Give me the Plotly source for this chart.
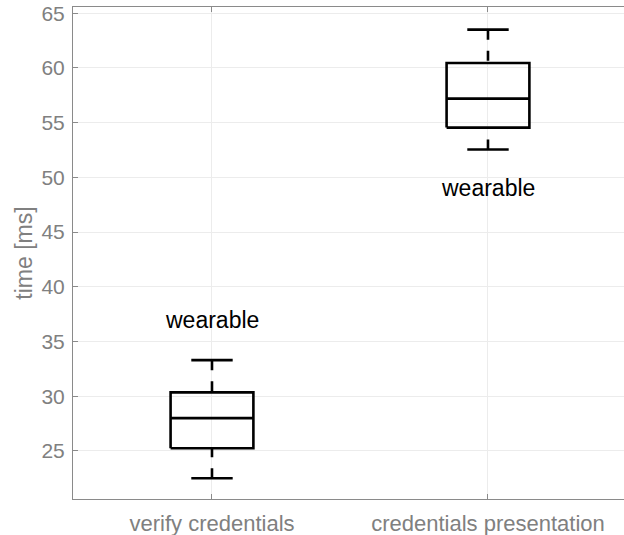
import plotly.graph_objects as go

# Timing summary per operation (ms)
categories = ["verify credentials", "credentials presentation"]
lower_whisker = [22.5, 52.55]
q1 = [25.25, 54.55]
median = [28.0, 57.2]
q3 = [30.35, 60.45]
upper_whisker = [33.3, 63.5]
label_text = ["wearable", "wearable"]
label_y = [37.0, 49.0]

y_ticks = [25, 30, 35, 40, 45, 50, 55, 60, 65]

positions = [1, 2]
box_half = 0.15
cap_half = 0.075
line_col = "black"
lw = 2.6

fig = go.Figure()

for i, c in enumerate(positions):
    # box outline
    fig.add_trace(go.Scatter(
        x=[c - box_half, c + box_half, c + box_half, c - box_half, c - box_half],
        y=[q1[i], q1[i], q3[i], q3[i], q1[i]],
        mode="lines", line=dict(color=line_col, width=lw), hoverinfo="skip"))
    # median
    fig.add_trace(go.Scatter(
        x=[c - box_half, c + box_half], y=[median[i], median[i]],
        mode="lines", line=dict(color=line_col, width=lw), hoverinfo="skip"))
    # whisker caps
    for v in (lower_whisker[i], upper_whisker[i]):
        fig.add_trace(go.Scatter(
            x=[c - cap_half, c + cap_half], y=[v, v],
            mode="lines", line=dict(color=line_col, width=lw), hoverinfo="skip"))
    # dashed whiskers, drawn from the caps toward the box
    fig.add_trace(go.Scatter(
        x=[c, c], y=[upper_whisker[i], q3[i]],
        mode="lines", line=dict(color=line_col, width=lw, dash="10px,11px"),
        hoverinfo="skip"))
    fig.add_trace(go.Scatter(
        x=[c, c], y=[lower_whisker[i], q1[i]],
        mode="lines", line=dict(color=line_col, width=lw, dash="10px,11px"),
        hoverinfo="skip"))
    fig.add_annotation(x=c, y=label_y[i], text=label_text[i], showarrow=False,
                       font=dict(family="Liberation Sans, Arial", size=23, color="black"),
                       xanchor="center", yanchor="middle")

axis_col = "#8a8a8a"
y_range = [20.61, 65.57]
fig.update_layout(
    width=624, height=535,
    margin=dict(l=73, r=0, t=7, b=36),
    paper_bgcolor="white", plot_bgcolor="white",
    showlegend=False,
    font=dict(family="Liberation Sans, Arial", size=21, color="#808080"),
    xaxis=dict(
        range=[0.4964, 2.4928], tickvals=positions, ticktext=categories,
        showgrid=True, gridcolor="#ececec", gridwidth=1,
        showline=True, linecolor=axis_col, linewidth=1, mirror="ticks",
        ticks="inside", ticklen=5, tickcolor=axis_col,
        tickfont=dict(size=22, color="#808080"), zeroline=False,
        ticklabelstandoff=5,
    ),
    yaxis=dict(
        range=y_range, tickvals=y_ticks,
        showgrid=True, gridcolor="#ececec", gridwidth=1,
        showline=True, linecolor=axis_col, linewidth=1, mirror=False,
        ticks="inside", ticklen=5, tickcolor=axis_col,
        tickfont=dict(size=21, color="#808080"), zeroline=False,
        ticklabelstandoff=3,
        title=dict(text="time [ms]", font=dict(size=23, color="#808080"), standoff=2),
    ),
    # right-hand tick marks without a border line
    yaxis2=dict(
        range=y_range, tickvals=y_ticks, overlaying="y", side="right",
        showgrid=False, showline=False, showticklabels=False, zeroline=False,
        ticks="inside", ticklen=5, tickcolor=axis_col,
    ),
)

fig.write_html("out.html")
